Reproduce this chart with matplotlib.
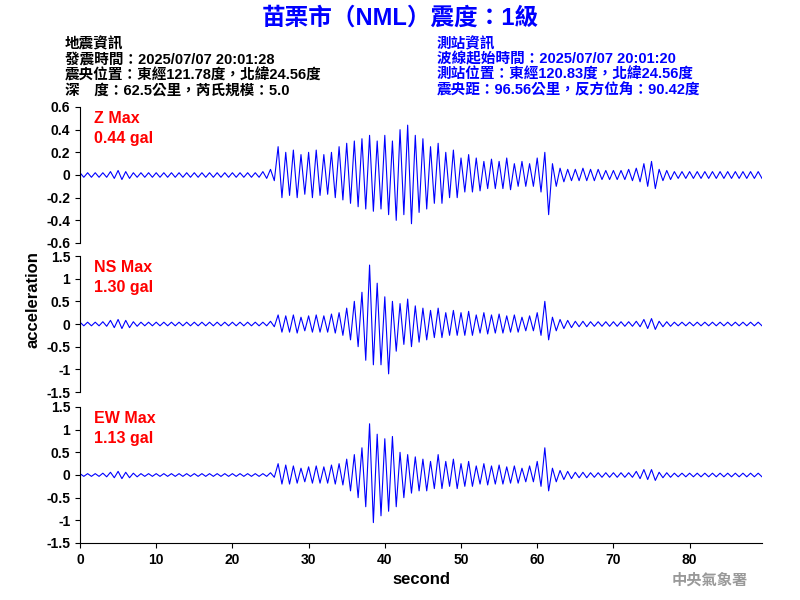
import matplotlib
matplotlib.use("Agg")
import matplotlib.pyplot as plt
import numpy as np

plt.rcParams['font.family'] = ['Liberation Sans', 'Noto Sans CJK TC', 'DejaVu Sans']

# envelope, one positive and one negative peak per second (0..89 s)
z_hi = [.02, .02, .02, .02, .03, .04, .03, .02, .02, .02,
        .02, .02, .02, .02, .02, .02, .02, .02, .02, .02,
        .02, .02, .02, .02, .03, .05, .25, .20, .22, .18,
        .20, .22, .18, .20, .25, .28, .30, .32, .35, .30,
        .35, .30, .40, .44, .35, .32, .25, .28, .20, .22,
        .15, .18, .15, .12, .14, .12, .15, .10, .12, .10,
        .15, .20, .10, .06, .05, .05, .06, .05, .05, .04,
        .04, .04, .05, .06, .10, .12, .05, .04, .03, .03,
        .03, .03, .03, .03, .03, .03, .03, .03, .03, .03]
z_lo = [-.02, -.02, -.02, -.02, -.03, -.04, -.03, -.02, -.02, -.02,
        -.02, -.02, -.02, -.02, -.02, -.02, -.02, -.02, -.02, -.02,
        -.02, -.02, -.02, -.02, -.03, -.05, -.20, -.18, -.20, -.17,
        -.20, -.18, -.17, -.20, -.22, -.25, -.28, -.30, -.32, -.30,
        -.35, -.40, -.35, -.43, -.33, -.30, -.25, -.25, -.20, -.20,
        -.15, -.15, -.14, -.12, -.12, -.12, -.13, -.10, -.10, -.10,
        -.15, -.35, -.10, -.06, -.05, -.05, -.05, -.05, -.04, -.04,
        -.04, -.04, -.05, -.06, -.10, -.12, -.05, -.04, -.03, -.03,
        -.03, -.03, -.03, -.03, -.03, -.03, -.03, -.03, -.03, -.03]

ns_hi = [.04, .04, .04, .05, .08, .10, .08, .05, .04, .04,
         .04, .04, .04, .04, .04, .04, .04, .04, .04, .04,
         .04, .04, .04, .04, .04, .06, .20, .18, .20, .15,
         .18, .20, .18, .22, .25, .35, .50, .70, 1.30, .90,
         .60, .50, .45, .55, .40, .35, .30, .35, .25, .30,
         .25, .28, .20, .25, .20, .22, .18, .20, .15, .18,
         .25, .50, .15, .10, .08, .06, .06, .05, .05, .05,
         .05, .05, .05, .06, .10, .12, .06, .05, .04, .04,
         .04, .04, .04, .04, .04, .04, .04, .04, .04, .04]
ns_lo = [-.04, -.04, -.04, -.05, -.08, -.10, -.08, -.05, -.04, -.04,
         -.04, -.04, -.04, -.04, -.04, -.04, -.04, -.04, -.04, -.04,
         -.04, -.04, -.04, -.04, -.04, -.06, -.18, -.18, -.20, -.15,
         -.18, -.18, -.18, -.20, -.25, -.35, -.50, -.80, -.90, -.90,
         -1.10, -.60, -.45, -.50, -.40, -.35, -.30, -.30, -.25, -.25,
         -.25, -.25, -.20, -.22, -.20, -.20, -.18, -.18, -.15, -.15,
         -.25, -.35, -.15, -.10, -.08, -.06, -.06, -.05, -.05, -.05,
         -.05, -.05, -.05, -.06, -.10, -.12, -.06, -.05, -.04, -.04,
         -.04, -.04, -.04, -.04, -.04, -.04, -.04, -.04, -.04, -.04]

ew_hi = [.03, .03, .03, .04, .06, .08, .06, .04, .03, .03,
         .03, .03, .03, .03, .03, .03, .03, .03, .03, .03,
         .03, .03, .03, .03, .03, .05, .25, .22, .20, .15,
         .18, .20, .18, .22, .25, .35, .45, .60, 1.13, .90,
         .80, .85, .50, .45, .40, .35, .30, .45, .30, .35,
         .25, .30, .20, .25, .20, .22, .18, .20, .15, .20,
         .30, .60, .15, .10, .08, .06, .06, .05, .05, .05,
         .05, .05, .05, .08, .12, .12, .06, .05, .04, .04,
         .04, .04, .04, .04, .04, .04, .04, .04, .04, .04]
ew_lo = [-.03, -.03, -.03, -.04, -.06, -.08, -.06, -.04, -.03, -.03,
         -.03, -.03, -.03, -.03, -.03, -.03, -.03, -.03, -.03, -.03,
         -.03, -.03, -.03, -.03, -.03, -.05, -.20, -.20, -.18, -.15,
         -.18, -.18, -.18, -.20, -.22, -.35, -.50, -.70, -1.05, -.90,
         -.80, -.70, -.50, -.40, -.35, -.35, -.30, -.30, -.25, -.30,
         -.25, -.25, -.20, -.22, -.20, -.20, -.18, -.18, -.15, -.15,
         -.25, -.35, -.15, -.10, -.08, -.06, -.06, -.05, -.05, -.05,
         -.05, -.05, -.05, -.08, -.10, -.12, -.06, -.05, -.04, -.04,
         -.04, -.04, -.04, -.04, -.04, -.04, -.04, -.04, -.04, -.04]

labels = ["Z Max\n0.44 gal", "NS Max\n1.30 gal", "EW Max\n1.13 gal"]
ylims = [(-0.6, 0.6), (-1.5, 1.5), (-1.5, 1.5)]
yticks = [[-0.6, -0.4, -0.2, 0, 0.2, 0.4, 0.6],
          [-1.5, -1, -0.5, 0, 0.5, 1, 1.5],
          [-1.5, -1, -0.5, 0, 0.5, 1, 1.5]]
ytick_labels = [["-0.6", "-0.4", "-0.2", "0", "0.2", "0.4", "0.6"],
                ["-1.5", "-1", "-0.5", "0", "0.5", "1", "1.5"],
                ["-1.5", "-1", "-0.5", "0", "0.5", "1", "1.5"]]
xticks = [0, 10, 20, 30, 40, 50, 60, 70, 80]


def zigzag(hi, lo):
    # interleave the positive and negative peaks: hi at t, lo at t+0.5
    t = np.arange(len(hi))
    xs = np.column_stack([t, t + 0.5]).ravel()
    ys = np.column_stack([hi, lo]).ravel()
    return xs, ys


fig = plt.figure(figsize=(8, 6), dpi=100)
bottoms = [1 - 243 / 600, 1 - 392 / 600, 1 - 543 / 600]
h = 136 / 600
for i, (hi, lo) in enumerate([(z_hi, z_lo), (ns_hi, ns_lo), (ew_hi, ew_lo)]):
    ax = fig.add_axes([80 / 800, bottoms[i], 682 / 800, h])
    xs, ys = zigzag(hi, lo)
    ax.plot(xs, ys, color="blue", lw=0.8)
    ax.set_xlim(0, 89.5)
    ax.set_ylim(*ylims[i])
    ax.set_yticks(yticks[i])
    ax.set_yticklabels(ytick_labels[i], fontsize=10, fontweight="bold")
    for s in ["top", "right"]:
        ax.spines[s].set_visible(False)
    if i < 2:
        ax.spines["bottom"].set_visible(False)
        ax.set_xticks([])
    else:
        ax.set_xticks(xticks)
        ax.set_xticklabels([str(x) for x in xticks], fontsize=10, fontweight="bold")
        ax.set_xlabel("second", fontsize=12, fontweight="bold")
    ax.text(0.02, 0.97, labels[i], transform=ax.transAxes, color="red",
            fontsize=11.5, fontweight="bold", va="top", linespacing=1.4)

fig.text(33 / 800, 0.5, "acceleration", rotation=90, va="center", ha="center",
         fontsize=12, fontweight="bold")

fig.text(0.5, 1 - 18 / 600, "苗栗市（NML）震度：1級", color="blue", ha="center",
         va="center", fontsize=17, fontweight="bold")

left_info = ["地震資訊", "發震時間：2025/07/07 20:01:28",
             "震央位置：東經121.78度，北緯24.56度", "深　度：62.5公里，芮氏規模：5.0"]
right_info = ["測站資訊", "波線起始時間：2025/07/07 20:01:20",
              "測站位置：東經120.83度，北緯24.56度", "震央距：96.56公里，反方位角：90.42度"]
for j, (l, r) in enumerate(zip(left_info, right_info)):
    y = 1 - (44 + j * 15.5) / 600
    fig.text(65 / 800, y, l, color="black", fontsize=10.5, fontweight="bold", va="center")
    fig.text(437 / 800, y, r, color="blue", fontsize=10.5, fontweight="bold", va="center")

fig.text(748 / 800, 1 - 581 / 600, "中央氣象署", color="#999999", ha="right",
         va="center", fontsize=11, fontweight="bold")

fig.savefig("out.png", dpi=100)
